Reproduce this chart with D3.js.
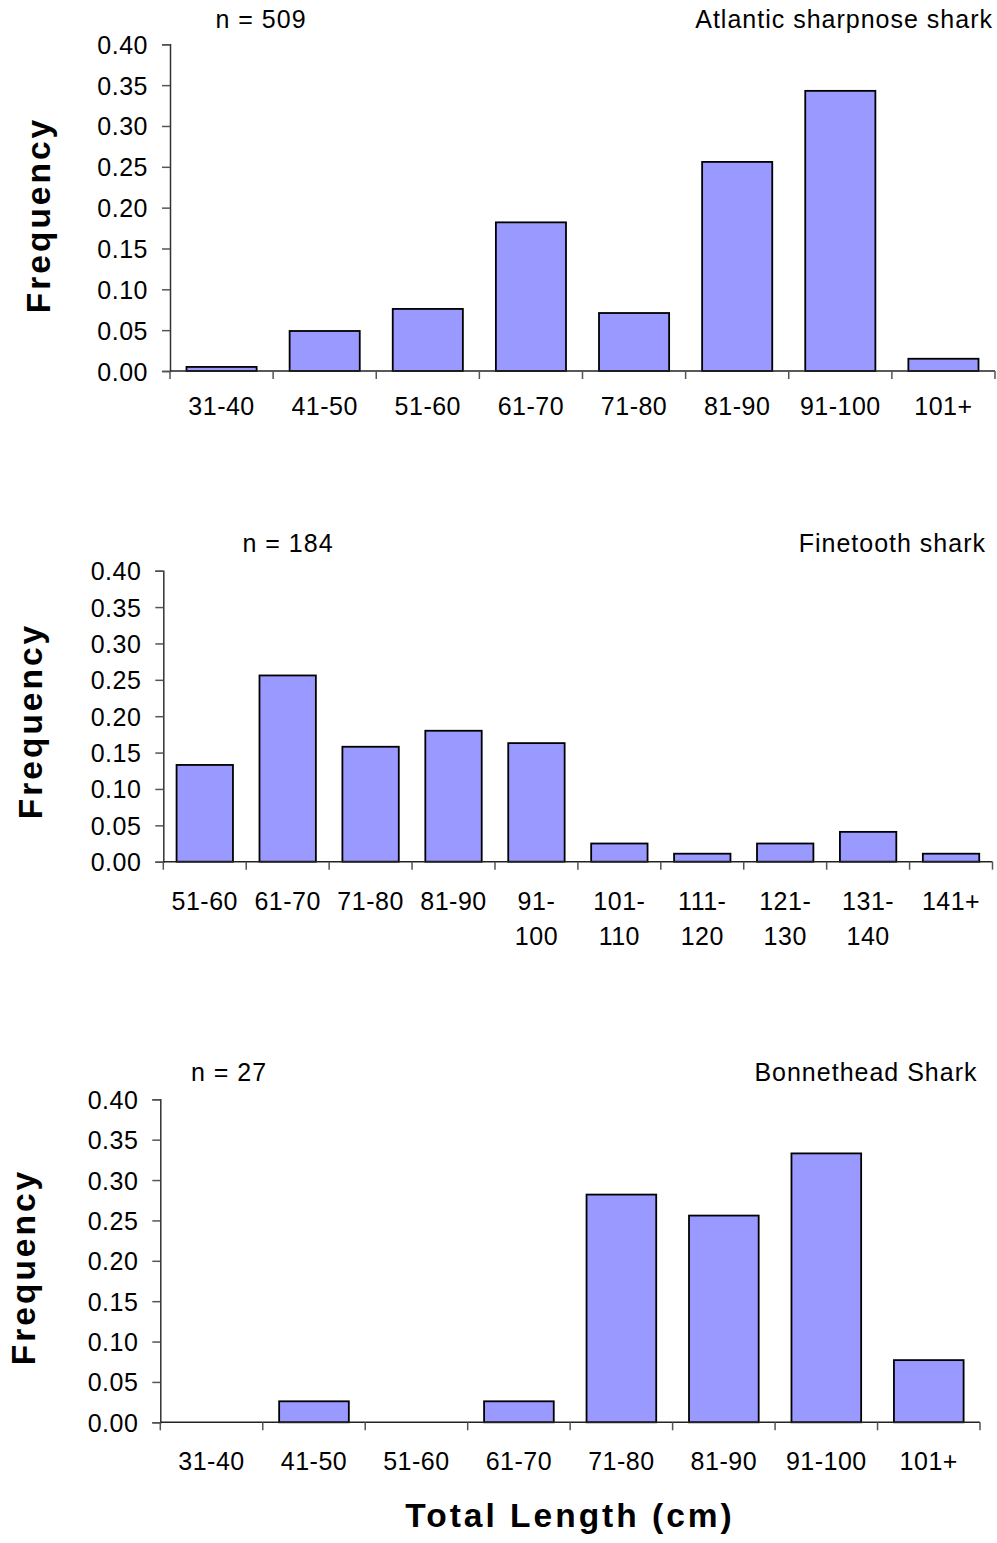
<!DOCTYPE html>
<html>
<head>
<meta charset="utf-8">
<script src="https://cdn.jsdelivr.net/npm/d3@7/dist/d3.min.js"></script>
<style>
  html, body { margin: 0; padding: 0; background: #fff; }
  svg { display: block; }
  text { font-family: "Liberation Sans", Arial, sans-serif; fill: #000; }
</style>
</head>
<body>
<svg id="chart" width="997" height="1543"></svg>
<script>
'use strict';

// values
var sharpCats = ['31-40', '41-50', '51-60', '61-70', '71-80', '81-90', '91-100', '101+'],
    sharpFreq = [0.005, 0.049, 0.076, 0.182, 0.071, 0.256, 0.343, 0.015];

var fineCats = ['51-60', '61-70', '71-80', '81-90', '91-100', '101-110', '111-120', '121-130', '131-140', '141+'],
    fineFreq = [0.133, 0.256, 0.158, 0.180, 0.163, 0.025, 0.011, 0.025, 0.041, 0.011];

var bonnCats = ['31-40', '41-50', '51-60', '61-70', '71-80', '81-90', '91-100', '101+'],
    bonnFreq = [0, 0.026, 0, 0.026, 0.282, 0.256, 0.333, 0.077];

var yTicks = [0, 0.05, 0.10, 0.15, 0.20, 0.25, 0.30, 0.35, 0.40];

var panels = [
  { cats: sharpCats, vals: sharpFreq, n: 'n = 509', name: 'Atlantic sharpnose shark',
    left: 170, right: 995, top: 44.3, bottom: 371, nX: 261, nameX: 993, titleY: 28,
    labelDy: 44, freqX: 50, freqY: 215 },
  { cats: fineCats, vals: fineFreq, n: 'n = 184', name: 'Finetooth shark',
    left: 163.3, right: 992.5, top: 570.7, bottom: 861.7, nX: 288, nameX: 986, titleY: 551.7,
    labelDy: 48, freqX: 42, freqY: 721 },
  { cats: bonnCats, vals: bonnFreq, n: 'n = 27', name: 'Bonnethead Shark',
    left: 160.3, right: 980, top: 1099.3, bottom: 1422.3, nX: 229, nameX: 977.5, titleY: 1080.7,
    labelDy: 48, freqX: 35, freqY: 1267 }
];

var svg = d3.select('#chart');

function drawPanel(p) {
  var g = svg.append('g'),
      x = d3.scaleBand().domain(p.cats).range([p.left, p.right]).paddingInner(0.32).paddingOuter(0.16),
      y = d3.scaleLinear().domain([0, 0.40]).range([p.bottom, p.top]),
      step = x.step();

  // y axis
  var yAxis = g.append('g')
    .attr('transform', 'translate(' + p.left + ',0)')
    .call(d3.axisLeft(y).tickValues(yTicks).tickFormat(d3.format('.2f')).tickSize(8).tickPadding(14));
  yAxis.select('.domain').attr('stroke', '#333').attr('stroke-width', 1.5);
  yAxis.selectAll('.tick line').attr('stroke', '#555').attr('stroke-width', 1.5);
  yAxis.selectAll('.tick text')
    .attr('font-size', 25).attr('letter-spacing', 0.5)
    .attr('font-family', '"Liberation Sans", Arial, sans-serif').attr('fill', '#000')
    .attr('dy', '0.36em');

  // bars
  g.selectAll('rect.bar')
    .data(p.cats.map(function (c, i) { return { cat: c, v: p.vals[i] }; }).filter(function (d) { return d.v > 0; }))
    .enter().append('rect')
    .attr('class', 'bar')
    .attr('x', function (d) { return x(d.cat); })
    .attr('width', x.bandwidth())
    .attr('y', function (d) { return y(d.v); })
    .attr('height', function (d) { return y(0) - y(d.v); })
    .attr('fill', '#9999ff')
    .attr('stroke', '#000')
    .attr('stroke-width', 1.8);

  // x axis line and ticks at category boundaries
  g.append('line')
    .attr('x1', p.left).attr('x2', p.right)
    .attr('y1', y(0)).attr('y2', y(0))
    .attr('stroke', '#222').attr('stroke-width', 1.5);
  g.selectAll('line.xtick')
    .data(d3.range(p.cats.length + 1))
    .enter().append('line')
    .attr('class', 'xtick')
    .attr('x1', function (i) { return p.left + i * step; })
    .attr('x2', function (i) { return p.left + i * step; })
    .attr('y1', y(0)).attr('y2', y(0) + 8)
    .attr('stroke', '#555').attr('stroke-width', 1.5);

  // category labels, wrapped after the hyphen when too wide
  var labels = g.selectAll('text.cat')
    .data(p.cats)
    .enter().append('text')
    .attr('class', 'cat')
    .attr('x', function (d) { return x(d) + x.bandwidth() / 2; })
    .attr('y', y(0) + p.labelDy)
    .attr('text-anchor', 'middle')
    .attr('font-size', 25)
    .attr('letter-spacing', 0.5)
    .text(function (d) { return d; });

  labels.each(function (d) {
    var t = d3.select(this);
    if (this.getComputedTextLength() > step * 0.9 && d.indexOf('-') > 0) {
      var cut = d.indexOf('-') + 1,
          cx = +t.attr('x');
      t.text(null);
      t.append('tspan').attr('x', cx).text(d.slice(0, cut));
      t.append('tspan').attr('x', cx).attr('dy', 35).text(d.slice(cut));
    }
  });

  // sample size and species
  g.append('text')
    .attr('x', p.nX).attr('y', p.titleY)
    .attr('text-anchor', 'middle')
    .attr('font-size', 25).attr('letter-spacing', 1)
    .text(p.n);
  g.append('text')
    .attr('x', p.nameX).attr('y', p.titleY)
    .attr('text-anchor', 'end')
    .attr('font-size', 25).attr('letter-spacing', 1)
    .text(p.name);

  // y title
  g.append('text')
    .attr('transform', 'translate(' + p.freqX + ',' + p.freqY + ') rotate(-90)')
    .attr('text-anchor', 'middle')
    .attr('font-size', 33.5)
    .attr('font-weight', 'bold')
    .attr('letter-spacing', 3)
    .text('Frequency');
}

panels.forEach(drawPanel);

svg.append('text')
  .attr('x', 570).attr('y', 1527.3)
  .attr('text-anchor', 'middle')
  .attr('font-size', 33.5)
  .attr('font-weight', 'bold')
  .attr('letter-spacing', 3)
  .text('Total Length (cm)');
</script>
</body>
</html>
